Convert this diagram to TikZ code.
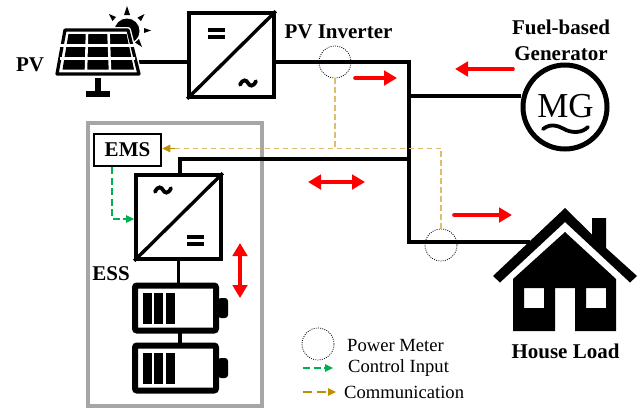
\documentclass[tikz,border=0pt]{standalone}
\usepackage{fontspec}
\setmainfont{Liberation Serif}
\usetikzlibrary{arrows.meta}
\definecolor{commc}{RGB}{191,144,0}
\definecolor{commlight}{RGB}{222,190,110}
\definecolor{ctrlc}{RGB}{0,176,80}
\tikzset{
  x=1bp,y=-1bp,
  boldlabel/.style={font=\fontsize{21bp}{23bp}\selectfont\bfseries,inner sep=0pt,align=center},
  leglabel/.style={font=\fontsize{18.6bp}{22bp}\selectfont,inner sep=0pt,anchor=west},
  power/.style={line width=3.7bp,draw=black},
  converter/.style={draw=black,line width=3.7bp,inner sep=0pt,minimum width=85bp,minimum height=84bp,fill=white},
  meter/.style={circle,draw=black,dash pattern=on .9bp off 1.3bp,line width=.8bp,minimum size=32bp,inner sep=0pt},
  redarrow/.style={draw=red,line width=3.6bp,line cap=round,-{Triangle[length=13bp,width=14.5bp]}},
  redboth/.style={draw=red,line width=3.6bp,{Triangle[length=13bp,width=14.5bp]}-{Triangle[length=13bp,width=14.5bp]}},
  commline/.style={draw=commlight,line width=1.1bp,dash pattern=on 5.5bp off 3.5bp},
  commarrow/.style={draw=commc,line width=1.1bp,dash pattern=on 9bp off 5bp,-{Triangle[length=8bp,width=7.5bp]}},
  ctrlarrow/.style={draw=ctrlc,line width=1.1bp,dash pattern=on 7bp off 3.5bp,-{Triangle[length=8bp,width=7.5bp]}},
  battery/.style={draw=black,line width=6bp,rounded corners=2bp,fill=white,inner sep=0pt,minimum width=81bp,minimum height=45bp},
}
\newcommand{\eqsym}[2]{\fill (#1-8.5,#2-5.3) rectangle (#1+8.5,#2-1.4); \fill (#1-8.5,#2+1.6) rectangle (#1+8.5,#2+5.6);}
\newcommand{\tildesym}[2]{\draw[line width=3.8bp,line cap=round] (#1-8,#2+1.8) .. controls (#1-5,#2-4.5) and (#1-1.5,#2-3) .. (#1,#2) .. controls (#1+1.5,#2+3) and (#1+5,#2+4.5) .. (#1+8,#2-1.8);}
\begin{document}
\begin{tikzpicture}
\useasboundingbox (0,0) rectangle (639,411);
% ESS frame
\node[draw=black!35,line width=3.4bp,inner sep=0pt,minimum width=174bp,minimum height=283bp] (essbox) at (175,264.5) {};
% junctions
\coordinate (jtop) at (409,62);
\coordinate (jmg) at (409,96);
\coordinate (jess) at (409,159);
\coordinate (jbot) at (409,242);
\coordinate (ccorner) at (180,159);
\coordinate (mtap) at (335,148.5);
\coordinate (ltap) at (441,148.5);
\coordinate (ctrlc1) at (112,219);
% devices
\node[converter] (inv1) at (231.5,55) {};
\node[converter] (inv2) at (178.5,217) {};
\node[draw=black,line width=2.6bp,inner sep=0pt,minimum width=67bp,minimum height=32bp,fill=white,boldlabel] (ems) at (127.5,150) {EMS};
\node[circle,draw=black,line width=5bp,minimum size=84bp,inner sep=0pt,fill=white] (mg) at (565,107) {};
\node[inner sep=0pt,font=\fontsize{35bp}{36bp}\selectfont] (mgt) at (565.5,106) {MG};
\draw[line width=3.8bp,line cap=round] (543,129) .. controls (552,122) and (560,127) .. (566,130) .. controls (573,133) and (582,133) .. (588,127);
\node[inner sep=0pt,minimum size=0pt] (house) at (530,242) {};
\node[inner sep=0pt,minimum size=0pt] (panel) at (139,62) {};
% power lines
\draw[power] (panel) -- (inv1.west |- panel);
\draw[power,line join=miter] (inv1.east |- jtop) -- (jtop) -- (jbot) -- (house);
\draw[power] (jmg) -- (mg.west |- jmg);
\draw[power,line join=miter] (jess) -- (ccorner) -- (inv2.north -| ccorner);
\draw[power] (inv2.south) -- (178.5,284);
% PV panel
\begin{scope}
\fill (127,31) circle (12.5);
\fill (127,6) -- (124,15) -- (130,15) -- cycle;
\fill (109,14) -- (116,17) -- (112.5,21) -- cycle;
\fill (144.5,14) -- (141,21) -- (137.5,17.5) -- cycle;
\fill (151,30.5) -- (144,28) -- (144,33) -- cycle;
\fill (142,47) -- (135,42.5) -- (139,39) -- cycle;
\draw[white,line width=6bp,fill=white,line join=round] (65,30) -- (128,30) -- (139,74) -- (57,74) -- cycle;
\draw[black,line width=3.2bp,fill=white,line join=round] (65,30) -- (128,30) -- (139,74) -- (57,74) -- cycle;
\fill (68.5,34) -- (126.5,34) -- (134,69.5) -- (62.5,69.5) -- cycle;
\draw[white,line width=2.6bp] (60,45.5) -- (135,45.5) (60,58.5) -- (135,58.5) (87,33) -- (86,70) (108.5,33) -- (110,70);
\fill (95,78) rectangle (101,92);
\fill (86,91) rectangle (110,97);
\end{scope}
% converter details
\draw[line width=3.4bp] (inv1.south west) -- (inv1.north east);
\draw[line width=3.4bp] (inv2.south west) -- (inv2.north east);
\eqsym{216.5}{33.5}
\tildesym{248}{83}
\tildesym{163}{190}
\eqsym{195}{240}
% batteries
\draw[line width=3.4bp] (180,333) -- (180,343);
\node[battery] (b1) at (175.5,308) {};
\node[battery] (b2) at (175.5,368) {};
\foreach \n/\y in {b1/293,b2/353}{
  \fill (143,\y) rectangle (152,\y+31);
  \fill (154,\y) rectangle (163,\y+31);
  \fill (166,\y) rectangle (174.5,\y+31);
  \fill[rounded corners=3bp] (218,\y+5) -- (228,\y+5) -- (228,\y+25) -- (218,\y+25) -- cycle;
}
% house
\fill (565,208) -- (592,234.5) -- (592,218) -- (606,218) -- (606,248) -- (637,276) -- (630,282.5) -- (565,222) -- (500,282.5) -- (493,276) -- cycle;
\fill[even odd rule] (565,232) -- (616,279) -- (616,331) -- (575,331) -- (575,288) -- (555,288) -- (555,331) -- (513,331) -- (513,279) -- cycle
  (524,288) rectangle (544,308) (586,288) rectangle (606,308);
% meters
\node[meter] (m1) at (335,62) {};
\node[meter] (m2) at (441,245) {};
\node[meter] (m3) at (318,344) {};
% communication
\draw[commline] (m1.south) -- (mtap);
\draw[commline] (m2.north) -- (ltap);
\draw[commline] (ltap) -- (175,148.5);
\draw[commarrow] (175,148.5) -- (ems.east |- ltap);
\draw[ctrlarrow] (ems.south -| ctrlc1) -- (ctrlc1) -- (inv2.west |- ctrlc1);
% red arrows
\coordinate (r1a) at (355,78); \coordinate (r1b) at (397,78);
\coordinate (r2a) at (513,69); \coordinate (r2b) at (455,69);
\coordinate (r3a) at (308,182); \coordinate (r3b) at (365,182);
\coordinate (r4a) at (454,215); \coordinate (r4b) at (512,215);
\coordinate (r5a) at (240,243); \coordinate (r5b) at (240,298);
\draw[redarrow] (r1a) -- (r1b);
\draw[redarrow] (r2a) -- (r2b);
\draw[redboth] (r3a) -- (r3b);
\draw[redarrow] (r4a) -- (r4b);
\draw[redboth] (r5a) -- (r5b);
% labels
\node[boldlabel] (pvl) at (30,65) {PV};
\node[boldlabel] (inl) at (338.5,32) {PV Inverter};
\node[boldlabel,font=\fontsize{21bp}{26bp}\selectfont\bfseries] (genl) at (561,40) {Fuel-based\\Generator};
\node[boldlabel] (essl) at (111,274) {ESS};
\node[boldlabel] (hl) at (565.5,351) {House Load};
\node[leglabel] (l1) at (347,345) {Power Meter};
\node[leglabel] (l2) at (348,368) {Control Input};
\node[leglabel] (l3) at (344,392) {Communication};
\coordinate (c2a) at (303,368); \coordinate (c2b) at (333,368);
\coordinate (c3a) at (303,392); \coordinate (c3b) at (336,392);
\draw[ctrlarrow] (c2a) -- (c2b);
\draw[commarrow] (c3a) -- (c3b);
\end{tikzpicture}
\end{document}
